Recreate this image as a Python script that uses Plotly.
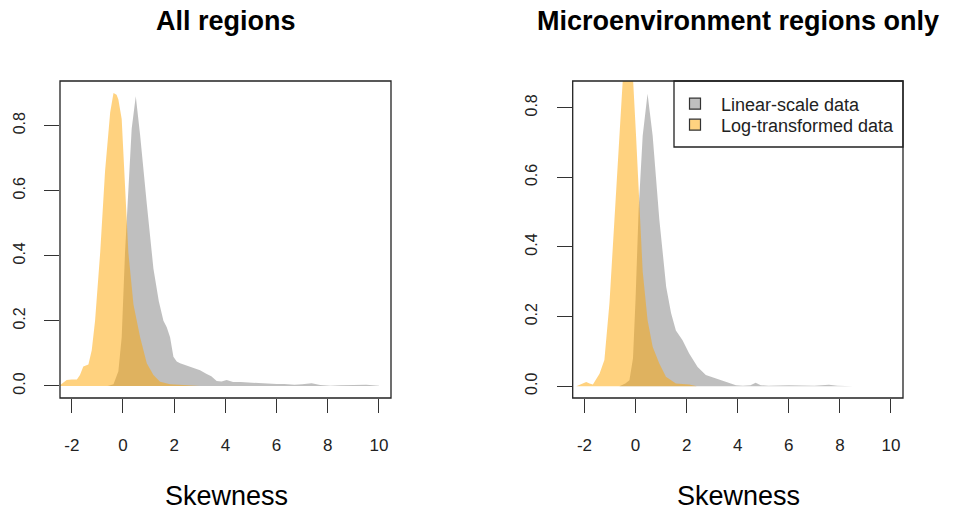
import plotly.graph_objects as go

# ---- data ----
all_lin_x = [-0.6, -0.37, -0.18, -0.05, 0.08, 0.21, 0.34, 0.5, 0.67, 0.93, 1.19, 1.4, 1.58, 1.71, 1.84,
             1.97, 2.1, 2.23, 2.4, 2.62, 2.8, 3.01, 3.27, 3.45, 3.66, 3.85, 4.05, 4.3, 4.6, 4.96, 5.3,
             5.6, 6.0, 6.3, 6.7, 7.0, 7.37, 7.7, 8.1, 8.5, 9.0, 9.5, 10.0]
all_lin_y = [0, 0.005, 0.045, 0.15, 0.41, 0.61, 0.79, 0.89, 0.77, 0.56, 0.36, 0.26, 0.2, 0.18, 0.15,
             0.09, 0.075, 0.07, 0.065, 0.06, 0.055, 0.048, 0.037, 0.03, 0.015, 0.014, 0.018, 0.012, 0.012, 0.01, 0.008,
             0.008, 0.006, 0.006, 0.004, 0.005, 0.008, 0.003, 0.001, 0.002, 0.004, 0.004, 0.001]

all_log_x = [-2.45, -2.2, -2.0, -1.8, -1.68, -1.55, -1.45, -1.35, -1.22, -1.09, -0.89, -0.70, -0.5, -0.37,
             -0.25, -0.18, -0.05, 0.08, 0.21, 0.41, 0.67, 0.93, 1.19, 1.45, 1.84, 2.35, 2.7, 3.0]
all_log_y = [0.003, 0.018, 0.02, 0.02, 0.034, 0.06, 0.063, 0.066, 0.11, 0.20, 0.41, 0.66, 0.84, 0.90,
             0.895, 0.88, 0.82, 0.61, 0.41, 0.25, 0.15, 0.07, 0.034, 0.013, 0.005, 0.003, 0.001, 0]

mic_lin_x = [-0.63, -0.4, -0.24, -0.1, 0.0, 0.12, 0.28, 0.47, 0.67, 0.93, 1.2, 1.39, 1.58, 1.84, 2.1,
             2.43, 2.75, 3.14, 3.54, 3.93, 4.2, 4.5, 4.7, 4.9, 5.2, 5.6, 6.0, 6.5, 7.0, 7.57, 7.9, 8.5]
mic_lin_y = [0, 0.008, 0.017, 0.08, 0.25, 0.506, 0.72, 0.84, 0.72, 0.48, 0.285, 0.21, 0.16, 0.132, 0.094,
             0.055, 0.032, 0.022, 0.012, 0.003, 0.001, 0.003, 0.01, 0.003, 0.001, 0.002, 0.003, 0.002, 0.001, 0.004, 0.001, 0]

mic_log_x = [-2.32, -2.1, -1.93, -1.8, -1.67, -1.41, -1.22, -1.02, -0.83, -0.63, -0.5, -0.4, -0.3, -0.2,
             -0.11, 0.02, 0.15, 0.28, 0.47, 0.67, 0.93, 1.19, 1.58, 2.1, 2.4]
mic_log_y = [0, 0.006, 0.012, 0.008, 0.005, 0.036, 0.075, 0.24, 0.48, 0.72, 0.88, 0.95, 0.98, 0.96,
             0.9, 0.72, 0.53, 0.33, 0.19, 0.113, 0.065, 0.027, 0.008, 0.005, 0]

x_ticks = [-2, 0, 2, 4, 6, 8, 10]
x_tick_text = ["-2", "0", "2", "4", "6", "8", "10"]
y_ticks = [0.0, 0.2, 0.4, 0.6, 0.8]
y_tick_text = ["0.0", "0.2", "0.4", "0.6", "0.8"]

panel_titles = ["All regions", "Microenvironment regions only"]
x_title = "Skewness"
series_names = ["Linear-scale data", "Log-transformed data"]

GRAY = "rgba(128,128,128,0.5)"
ORANGE = "rgba(255,165,0,0.5)"
FONT = "Liberation Sans, Arial, sans-serif"
W, H = 960, 516

fig = go.Figure()

def area(x, y, color, xa, ya):
    fig.add_trace(go.Scatter(x=x, y=y, mode="lines", fill="tozeroy", fillcolor=color,
                             line=dict(width=0, color=color), xaxis=xa, yaxis=ya,
                             showlegend=False, hoverinfo="skip"))

area(all_lin_x, all_lin_y, GRAY, "x", "y")
area(all_log_x, all_log_y, ORANGE, "x", "y")
area(mic_lin_x, mic_lin_y, GRAY, "x2", "y2")
area(mic_log_x, mic_log_y, ORANGE, "x2", "y2")

# legend entries (one legend per row so the rows can be placed exactly)
for name, col, lg in zip(series_names, ["rgb(191,191,191)", "rgb(255,210,128)"], ["legend", "legend2"]):
    fig.add_trace(go.Scatter(x=[None], y=[None], mode="markers", name=name, xaxis="x2", yaxis="y2",
                             legend=lg,
                             marker=dict(symbol="square", size=11, color=col,
                                         line=dict(color="#333", width=1.2))))

ydom = [1 - 398 / H, 1 - 81 / H]
xdom1 = [60 / W, 391 / W]
xdom2 = [572.7 / W, 903 / W]

def xax(dom, anchor):
    return dict(domain=dom, anchor=anchor, range=[-2.46, 10.47], tickvals=x_ticks, ticktext=x_tick_text,
                ticks="outside", ticklen=14, tickwidth=1.3, tickcolor="#333",
                showline=False, showgrid=False, zeroline=False, automargin=False,
                tickfont=dict(size=17, family=FONT, color="#222"), ticklabelstandoff=18)

def yax(dom, anchor, rng):
    return dict(domain=dom, anchor=anchor, range=rng, tickvals=y_ticks, ticktext=y_tick_text,
                ticks="outside", ticklen=15, tickwidth=1.3, tickcolor="#333", tickangle=-90,
                showline=False, showgrid=False, zeroline=False, automargin=False,
                tickfont=dict(size=16, family=FONT, color="#222"), ticklabelstandoff=13)

def leg(ycenter):
    return dict(x=669 / W, y=1 - ycenter / H, xanchor="left", yanchor="middle",
                bgcolor="rgba(0,0,0,0)", font=dict(size=18, family=FONT, color="#222"),
                itemwidth=42, borderwidth=0)

fig.update_layout(
    width=W, height=H, margin=dict(l=0, r=0, t=0, b=0),
    paper_bgcolor="white", plot_bgcolor="white",
    xaxis=xax(xdom1, "y"), yaxis=yax(ydom, "x", [-0.037, 0.937]),
    xaxis2=xax(xdom2, "y2"), yaxis2=yax(ydom, "x2", [-0.034, 0.877]),
    legend=leg(104), legend2=leg(125),
    showlegend=True,
)

shapes = []
for xa, ya in [("x", "y"), ("x2", "y2")]:
    shapes.append(dict(type="rect", xref=xa + " domain", yref=ya + " domain", x0=0, x1=1, y0=0, y1=1,
                       line=dict(color="#222", width=1.3), fillcolor="rgba(0,0,0,0)", layer="above"))
# legend border
shapes.append(dict(type="rect", xref="paper", yref="paper", x0=674 / W, x1=903 / W,
                   y0=1 - 147 / H, y1=1 - 81 / H, line=dict(color="#222", width=1.3),
                   fillcolor="rgba(0,0,0,0)", layer="above"))
fig.update_layout(shapes=shapes)

anns = []
for t, cx in zip(panel_titles, [225.5, 738]):
    anns.append(dict(text="<b>%s</b>" % t, x=cx / W, y=1 - 21 / H, xref="paper", yref="paper",
                     xanchor="center", yanchor="middle", showarrow=False,
                     font=dict(size=27, family=FONT, color="black")))
for cx in [226, 738]:
    anns.append(dict(text=x_title, x=cx / W, y=1 - 496 / H, xref="paper", yref="paper",
                     xanchor="center", yanchor="middle", showarrow=False,
                     font=dict(size=27, family=FONT, color="black")))
fig.update_layout(annotations=anns)

fig.write_html("out.html", config={"displayModeBar": False},
               post_script="document.body.style.margin='0';document.body.style.overflow='hidden';")
